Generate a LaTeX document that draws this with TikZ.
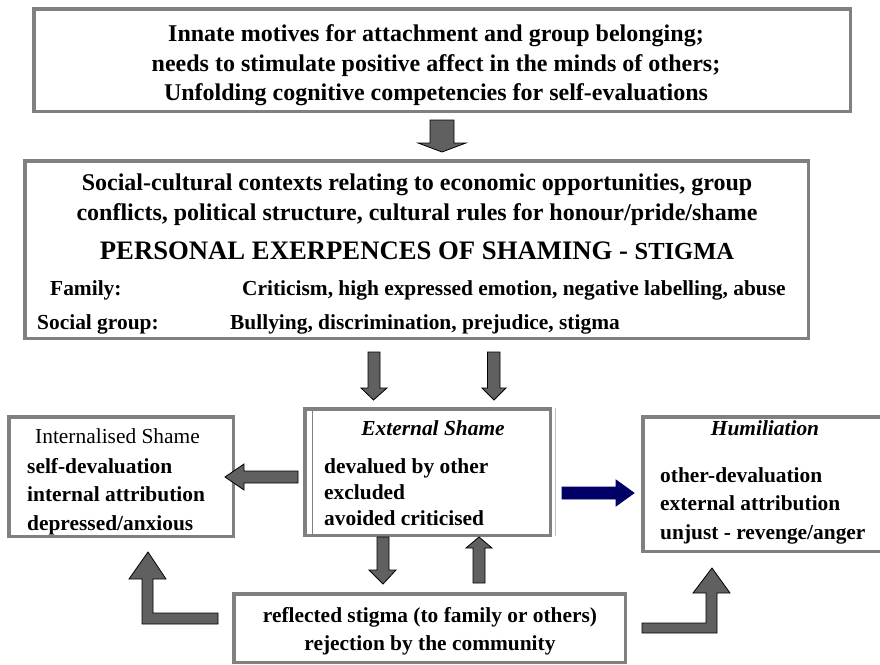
\documentclass[tikz,border=0pt]{standalone}
\usepackage{fontspec}
\setmainfont{Liberation Serif}
\definecolor{boxgray}{RGB}{128,128,128}
\definecolor{lightline}{RGB}{190,190,190}
\definecolor{arrowgray}{RGB}{96,96,96}
\definecolor{navyarrow}{RGB}{0,0,102}
\tikzset{
  frame/.style={draw=boxgray, line width=3.5pt, inner sep=0pt, fill=white},
  txt/.style={inner sep=0pt, font=\fontsize{21.4}{25}\selectfont\bfseries},
  bigtxt/.style={inner sep=0pt, font=\fontsize{24}{28}\selectfont\bfseries},
  blockarrow/.style={fill=arrowgray, draw=black, line width=0.8pt, line join=miter},
  bluearrow/.style={fill=navyarrow, draw=navyarrow, line width=0.8pt}
}
\begin{document}
\begin{tikzpicture}[x=1pt,y=-1pt]
\useasboundingbox (0,0) rectangle (880,664);
\clip (0,0) rectangle (880,664);

% boxes
\node[frame, minimum width=816.5pt, minimum height=102.5pt] (top) at (442,60) {};
\node[frame, minimum width=783.5pt, minimum height=177.5pt] (mid) at (416.5,249.5) {};
\node[frame, minimum width=224.5pt, minimum height=119.5pt] (intl) at (121,476.5) {};
\node[frame, minimum width=245.5pt, minimum height=126.5pt] (ext) at (427.5,472) {};
\node[frame, minimum width=245.5pt, minimum height=134.5pt] (hum) at (765.5,484) {};
\node[frame, minimum width=391.5pt, minimum height=68.5pt] (bot) at (429.5,628) {};

% extra lines of external box
\draw[boxgray, line width=1.2pt] ([xshift=9.5pt,yshift=-2pt]ext.north west) -- ([xshift=9.5pt,yshift=2pt]ext.south west);
\draw[lightline, line width=1.2pt] ([xshift=3.5pt,yshift=-1pt]ext.north east) -- ([xshift=3.5pt,yshift=1.5pt]ext.south east);

% top box text
\node[bigtxt, anchor=base] (t1) at (436,41) {Innate motives for attachment and group belonging;};
\node[bigtxt, anchor=base] (t2) at (436,71) {needs to stimulate positive affect in the minds of others;};
\node[bigtxt, anchor=base] (t3) at (436,100) {Unfolding cognitive competencies for self-evaluations};

% middle box text
\node[bigtxt, anchor=base] (m1) at (417,190) {Social-cultural contexts relating to economic opportunities, group};
\node[bigtxt, anchor=base] (m2) at (417,220) {conflicts, political structure, cultural rules for honour/pride/shame};
\node[inner sep=0pt, anchor=base, font=\fontsize{26.7}{30}\selectfont\bfseries] (m3) at (417,259) {PERSONAL EXERPENCES OF SHAMING - {\fontsize{24.5}{28}\selectfont STIGMA}};
\node[txt, anchor=base west] (m4) at (50,295.5) {Family:};
\node[txt, anchor=base west] (m5) at (242,295.5) {Criticism, high expressed emotion, negative labelling, abuse};
\node[txt, anchor=base west] (m6) at (37,329.5) {Social group:};
\node[txt, anchor=base west] (m7) at (230,329.5) {Bullying, discrimination, prejudice, stigma};

% internalised shame
\node[inner sep=0pt, anchor=base west, font=\fontsize{21.4}{25}\selectfont] (i1) at (35,443) {Internalised Shame};
\node[txt, anchor=base west] (i2) at (27,473) {self-devaluation};
\node[txt, anchor=base west] (i3) at (27,501) {internal attribution};
\node[txt, anchor=base west] (i4) at (27,530) {depressed/anxious};

% external shame
\node[txt, anchor=base, font=\fontsize{21.4}{25}\selectfont\bfseries\itshape] (e1) at (433,435) {External Shame};
\node[txt, anchor=base west] (e2) at (324,473) {devalued by other};
\node[txt, anchor=base west] (e3) at (324,499) {excluded};
\node[txt, anchor=base west] (e4) at (324,525) {avoided criticised};

% humiliation
\node[txt, anchor=base, font=\fontsize{21.4}{25}\selectfont\bfseries\itshape] (h1) at (765,435) {Humiliation};
\node[txt, anchor=base west] (h2) at (660,482) {other-devaluation};
\node[txt, anchor=base west] (h3) at (660,510) {external attribution};
\node[txt, anchor=base west] (h4) at (660,539) {unjust - revenge/anger};

% bottom box
\node[txt, anchor=base] (b1) at (430,622) {reflected stigma (to family or others)};
\node[txt, anchor=base] (b2) at (430,650) {rejection by the community};

% block arrows
% top -> middle
\draw[blockarrow] (430,120) -- (454,120) -- (454,143) -- (466,143) -- (442,152) -- (418,143) -- (430,143) -- cycle;
% middle -> external (two)
\draw[blockarrow] (368,352) -- (380,352) -- (380,388) -- (387,388) -- (373.5,400) -- (361,388) -- (368,388) -- cycle;
\draw[blockarrow] (487.5,352) -- (500,352) -- (500,388) -- (506,388) -- (494,400) -- (482,388) -- (487.5,388) -- cycle;
% external -> internalised
\draw[blockarrow] (298,471) -- (298,483) -- (244,483) -- (244,490) -- (225,477) -- (244,464) -- (244,471) -- cycle;
% external -> bottom
\draw[blockarrow] (377,537) -- (389,537) -- (389,570) -- (396,570) -- (383,584) -- (369,570) -- (377,570) -- cycle;
% bottom -> external
\draw[blockarrow] (473,583) -- (485,583) -- (485,548) -- (492,548) -- (479,537) -- (466,548) -- (473,548) -- cycle;
% external -> humiliation (blue)
\draw[bluearrow] (562,487) -- (616,487) -- (616,480) -- (634,493) -- (616,506) -- (616,499) -- (562,499) -- cycle;
% bottom -> internalised (L)
\draw[blockarrow] (218,613) -- (218,624) -- (142,624) -- (142,579) -- (129,579) -- (148,552) -- (166,579) -- (153,579) -- (153,613) -- cycle;
% bottom -> humiliation (L)
\draw[blockarrow] (642,623) -- (706,623) -- (706,593) -- (693,593) -- (712,568) -- (730,593) -- (717,593) -- (717,633) -- (642,633) -- cycle;
\end{tikzpicture}
\end{document}
